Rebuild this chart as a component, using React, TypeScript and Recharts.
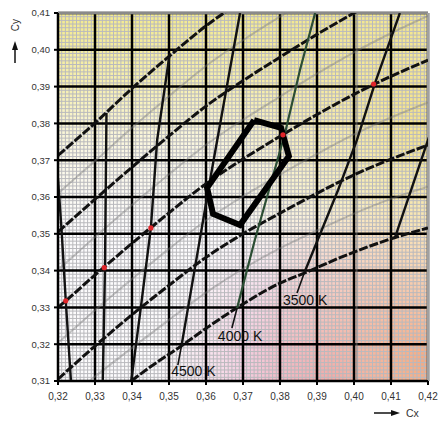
import React from 'react';
import { ComposedChart, XAxis, YAxis, CartesianGrid, Line, Scatter, ReferenceLine } from 'recharts';

type P = { x: number; y: number };

const W = 438;
const H = 421;

const xDomain = [0.32, 0.42];
const yDomain = [0.31, 0.41];
const xTicks = [0.32, 0.33, 0.34, 0.35, 0.36, 0.37, 0.38, 0.39, 0.4, 0.41, 0.42];
const yTicks = [0.31, 0.32, 0.33, 0.34, 0.35, 0.36, 0.37, 0.38, 0.39, 0.4, 0.41];

// minor grid every 0.001
const minorX: number[] = [];
for (let i = 321; i < 420; i++) if (i % 10 !== 0) minorX.push(i / 1000);
const minorY: number[] = [];
for (let i = 311; i < 410; i++) if (i % 10 !== 0) minorY.push(i / 1000);

// Planckian locus and constant-Duv lines
const planck: P[] = [
  { x: 0.32, y: 0.33 }, { x: 0.3221, y: 0.3318 }, { x: 0.33, y: 0.3388 }, { x: 0.34, y: 0.3474 },
  { x: 0.35, y: 0.3557 }, { x: 0.36, y: 0.3636 }, { x: 0.37, y: 0.3703 }, { x: 0.38, y: 0.3765 },
  { x: 0.39, y: 0.3824 }, { x: 0.4, y: 0.3879 }, { x: 0.41, y: 0.3928 }, { x: 0.42, y: 0.3972 },
];
const duvMinus1: P[] = [
  { x: 0.32, y: 0.3105 }, { x: 0.33, y: 0.3195 }, { x: 0.34, y: 0.328 }, { x: 0.35, y: 0.336 },
  { x: 0.36, y: 0.3436 }, { x: 0.37, y: 0.35 }, { x: 0.38, y: 0.3556 }, { x: 0.39, y: 0.361 },
  { x: 0.4, y: 0.366 }, { x: 0.41, y: 0.3703 }, { x: 0.42, y: 0.3741 },
];
const duvMinus2: P[] = [
  { x: 0.3398, y: 0.31 }, { x: 0.3449, y: 0.3138 }, { x: 0.353, y: 0.3193 }, { x: 0.36, y: 0.3243 },
  { x: 0.3684, y: 0.3299 }, { x: 0.38, y: 0.3366 }, { x: 0.387, y: 0.3395 }, { x: 0.3962, y: 0.3435 },
  { x: 0.4111, y: 0.349 }, { x: 0.42, y: 0.3516 },
];
const duvPlus1: P[] = [
  { x: 0.32, y: 0.3505 }, { x: 0.33, y: 0.3594 }, { x: 0.34, y: 0.3681 }, { x: 0.35, y: 0.3766 },
  { x: 0.36, y: 0.3847 }, { x: 0.37, y: 0.3916 }, { x: 0.38, y: 0.398 }, { x: 0.39, y: 0.4042 },
  { x: 0.4, y: 0.41 }, { x: 0.41, y: 0.4155 },
];
const duvPlus2: P[] = [
  { x: 0.32, y: 0.3713 }, { x: 0.33, y: 0.3801 }, { x: 0.34, y: 0.3895 }, { x: 0.35, y: 0.3982 },
  { x: 0.36, y: 0.4065 }, { x: 0.37, y: 0.4135 },
];
// intermediate (grey) Duv lines
const duvMinus15: P[] = [
  { x: 0.3285, y: 0.31 }, { x: 0.33, y: 0.3112 }, { x: 0.34, y: 0.319 }, { x: 0.35, y: 0.3266 },
  { x: 0.36, y: 0.334 }, { x: 0.37, y: 0.3405 }, { x: 0.38, y: 0.3461 }, { x: 0.39, y: 0.3509 },
  { x: 0.4, y: 0.3555 }, { x: 0.41, y: 0.3595 }, { x: 0.42, y: 0.3628 },
];
const duvMinus05: P[] = [
  { x: 0.32, y: 0.3203 }, { x: 0.33, y: 0.3292 }, { x: 0.34, y: 0.3377 }, { x: 0.35, y: 0.3459 },
  { x: 0.36, y: 0.3536 }, { x: 0.37, y: 0.3602 }, { x: 0.38, y: 0.3661 }, { x: 0.39, y: 0.3717 },
  { x: 0.4, y: 0.377 }, { x: 0.41, y: 0.3816 }, { x: 0.42, y: 0.3857 },
];
const duvPlus05: P[] = [
  { x: 0.32, y: 0.3402 }, { x: 0.33, y: 0.3491 }, { x: 0.34, y: 0.3578 }, { x: 0.35, y: 0.3662 },
  { x: 0.36, y: 0.3742 }, { x: 0.37, y: 0.381 }, { x: 0.38, y: 0.3873 }, { x: 0.39, y: 0.3935 },
  { x: 0.4, y: 0.3993 }, { x: 0.41, y: 0.4045 }, { x: 0.42, y: 0.4092 },
];
const duvPlus15: P[] = [
  { x: 0.32, y: 0.361 }, { x: 0.33, y: 0.3698 }, { x: 0.34, y: 0.3788 }, { x: 0.35, y: 0.3874 },
  { x: 0.36, y: 0.3956 }, { x: 0.37, y: 0.4026 }, { x: 0.38, y: 0.409 }, { x: 0.39, y: 0.415 },
];

// isotemperature lines
const iso6000: P[] = [{ x: 0.32, y: 0.365 }, { x: 0.321, y: 0.3505 }, { x: 0.3221, y: 0.3318 }, { x: 0.3235, y: 0.31 }];
const iso5500: P[] = [{ x: 0.3331, y: 0.3828 }, { x: 0.3327, y: 0.3408 }, { x: 0.3321, y: 0.31 }];
const iso5000: P[] = [{ x: 0.3502, y: 0.399 }, { x: 0.3468, y: 0.3755 }, { x: 0.3451, y: 0.3516 }, { x: 0.3422, y: 0.3285 }, { x: 0.3398, y: 0.31 }];
const iso4500: P[] = [{ x: 0.3692, y: 0.41 }, { x: 0.3611, y: 0.3646 }, { x: 0.3535, y: 0.3203 }];
const iso4000: P[] = [{ x: 0.3895, y: 0.41 }, { x: 0.3854, y: 0.3945 }, { x: 0.3813, y: 0.3771 }, { x: 0.3732, y: 0.3483 }, { x: 0.3684, y: 0.3298 }];
const iso3500: P[] = [{ x: 0.4124, y: 0.41 }, { x: 0.4057, y: 0.391 }, { x: 0.4008, y: 0.3755 }, { x: 0.3957, y: 0.3619 }, { x: 0.3866, y: 0.3395 }];
const iso3000: P[] = [{ x: 0.423, y: 0.3844 }, { x: 0.4111, y: 0.349 }];

// leader lines to the labels
const lead4500: P[] = [{ x: 0.3535, y: 0.3203 }, { x: 0.3524, y: 0.3143 }];
const lead4000: P[] = [{ x: 0.3684, y: 0.3298 }, { x: 0.367, y: 0.3244 }];
const lead3500: P[] = [{ x: 0.3866, y: 0.3395 }, { x: 0.3846, y: 0.3339 }];

const planckDots: P[] = [
  { x: 0.3221, y: 0.3318 }, { x: 0.3325, y: 0.3408 }, { x: 0.3451, y: 0.3516 },
  { x: 0.3808, y: 0.3769 }, { x: 0.4053, y: 0.3907 },
];

const tolerance: P[] = [
  { x: 0.373, y: 0.3809 }, { x: 0.3803, y: 0.3788 }, { x: 0.3824, y: 0.3711 },
  { x: 0.3692, y: 0.3524 }, { x: 0.3619, y: 0.3554 }, { x: 0.3603, y: 0.3625 }, { x: 0.373, y: 0.3809 },
];

const labelNames = ['4500 K', '4000 K', '3500 K'];
const labelX = [0.3566, 0.3692, 0.3868];
const labelY = [0.3127, 0.3222, 0.332];
const labels = labelNames.map((name, i) => ({ name, x: labelX[i], y: labelY[i] }));

const fmt = (v: number) => v.toFixed(2).replace('.', ',');

const blackDash = { stroke: '#111', strokeWidth: 3, strokeDasharray: '9 2' };
const greyLine = { stroke: '#7a7a7a', strokeOpacity: 0.42, strokeWidth: 2 };
const isoLine = { stroke: '#111', strokeWidth: 2.4 };

const genX = (props: any) => {
  const off = props && props.offset;
  if (!off) return [];
  return minorX.map((v) => off.left + ((v - xDomain[0]) / (xDomain[1] - xDomain[0])) * off.width);
};
const genY = (props: any) => {
  const off = props && props.offset;
  if (!off) return [];
  return minorY.map((v) => off.top + ((yDomain[1] - v) / (yDomain[1] - yDomain[0])) * off.height);
};

const L = (data: P[], style: any, type: any = 'monotone', key?: string) => (
  <Line
    key={key}
    data={data}
    dataKey="y"
    type={type}
    dot={false}
    activeDot={false}
    isAnimationActive={false}
    legendType="none"
    strokeLinejoin="miter"
    {...style}
  />
);

export default function App() {
  return (
    <div style={{ position: 'absolute', left: 0, top: 0, width: W, height: H, background: '#fff' }}>
      <ComposedChart
        width={W}
        height={H}
        margin={{ top: 13, right: 10, bottom: 10, left: 0 }}
        style={{ fontFamily: '"Liberation Sans", Arial, sans-serif' }}
      >
        <defs>
          <linearGradient id="gTop" x1="0" y1="0" x2="0" y2="1">
            <stop offset="0" stopColor="#f3ea8e" stopOpacity={1} />
            <stop offset="0.2" stopColor="#f5eda2" stopOpacity={0.85} />
            <stop offset="0.38" stopColor="#f7f1ba" stopOpacity={0.35} />
            <stop offset="0.58" stopColor="#f7f1ba" stopOpacity={0} />
          </linearGradient>
          <radialGradient id="gRightY" cx="1" cy="0.3" r="0.6">
            <stop offset="0" stopColor="#f3e07e" stopOpacity={0.9} />
            <stop offset="0.5" stopColor="#f4e490" stopOpacity={0.5} />
            <stop offset="1" stopColor="#f4e490" stopOpacity={0} />
          </radialGradient>
          <radialGradient id="gOrange" cx="1" cy="0.95" r="0.5">
            <stop offset="0" stopColor="#f5a67a" stopOpacity={0.95} />
            <stop offset="0.6" stopColor="#f8c48e" stopOpacity={0.4} />
            <stop offset="1" stopColor="#f8c48e" stopOpacity={0} />
          </radialGradient>
          <radialGradient id="gPink" cx="0.74" cy="1.0" r="0.48">
            <stop offset="0" stopColor="#ec96c0" stopOpacity={1} />
            <stop offset="0.55" stopColor="#f1b8d4" stopOpacity={0.6} />
            <stop offset="1" stopColor="#f3c8dc" stopOpacity={0} />
          </radialGradient>
        </defs>

        <CartesianGrid horizontal={false} vertical={false} fill="#fcfbfc" />
        <CartesianGrid horizontal={false} vertical={false} fill="url(#gTop)" />
        <CartesianGrid horizontal={false} vertical={false} fill="url(#gRightY)" />
        <CartesianGrid horizontal={false} vertical={false} fill="url(#gPink)" />
        <CartesianGrid horizontal={false} vertical={false} fill="url(#gOrange)" />
        <CartesianGrid
          stroke="#b9b9bd"
          strokeWidth={1}
          verticalCoordinatesGenerator={genX}
          horizontalCoordinatesGenerator={genY}
        />
        <CartesianGrid stroke="#000" strokeWidth={2.5} />

        <XAxis
          type="number"
          dataKey="x"
          domain={xDomain}
          ticks={xTicks}
          interval={0}
          allowDataOverflow
          tickFormatter={fmt}
          tickSize={4}
          tickMargin={8}
          height={30}
          stroke="#000"
          strokeWidth={2}
          tick={{ fill: '#333', fontSize: 10 }}
        />
        <YAxis
          type="number"
          dataKey="y"
          domain={yDomain}
          ticks={yTicks}
          interval={0}
          allowDataOverflow
          tickFormatter={fmt}
          tickSize={4}
          tickMargin={4}
          width={58}
          stroke="#000"
          strokeWidth={2}
          tick={{ fill: '#333', fontSize: 9.5 }}
        />

        <ReferenceLine x={0.4007} stroke="#7a7a7a" strokeOpacity={0.5} strokeWidth={2} />
        <ReferenceLine y={0.41} stroke="#8a8a8a" strokeWidth={2.5} />
        <ReferenceLine x={0.42} stroke="#a0a0a0" strokeWidth={2.5} />

        {L(duvMinus15, greyLine, 'monotone', 'g1')}
        {L(duvMinus05, greyLine, 'monotone', 'g2')}
        {L(duvPlus05, greyLine, 'monotone', 'g3')}
        {L(duvPlus15, greyLine, 'monotone', 'g4')}

        {L(duvMinus2, blackDash, 'monotone', 'b1')}
        {L(duvMinus1, blackDash, 'monotone', 'b2')}
        {L(planck, blackDash, 'monotone', 'b3')}
        {L(duvPlus1, blackDash, 'monotone', 'b4')}
        {L(duvPlus2, blackDash, 'monotone', 'b5')}

        {L(iso6000, isoLine, 'linear', 'i1')}
        {L(iso5500, isoLine, 'linear', 'i2')}
        {L(iso5000, isoLine, 'linear', 'i3')}
        {L(iso4500, isoLine, 'linear', 'i4')}
        {L(iso4000, { stroke: '#2b4d33', strokeWidth: 2.2 }, 'linear', 'i5')}
        {L(iso3500, isoLine, 'linear', 'i6')}
        {L(iso3000, isoLine, 'linear', 'i7')}

        {L(lead4500, { stroke: '#111', strokeWidth: 1.6 }, 'linear', 'l1')}
        {L(lead4000, { stroke: '#111', strokeWidth: 1.6 }, 'linear', 'l2')}
        {L(lead3500, { stroke: '#111', strokeWidth: 1.6 }, 'linear', 'l3')}

        {L(tolerance, { stroke: '#000', strokeWidth: 6 }, 'linear', 'poly')}

        <Scatter
          data={planckDots}
          isAnimationActive={false}
          shape={(p: any) => <circle cx={p.cx} cy={p.cy} r={2.6} fill="#e0262a" />}
        />
        <Scatter
          data={labels}
          isAnimationActive={false}
          shape={(p: any) => (
            <text
              x={p.cx}
              y={p.cy}
              textAnchor="middle"
              dominantBaseline="central"
              fontSize={14}
              fill="#111"
              fontFamily='"Liberation Sans", Arial, sans-serif'
            >
              {p.payload.name}
            </text>
          )}
        />
      </ComposedChart>
      <svg
        width={W}
        height={H}
        style={{ position: 'absolute', left: 0, top: 0, pointerEvents: 'none' }}
        fontFamily='"Liberation Sans", Arial, sans-serif'
      >
        <text x={15} y={25} transform="rotate(-90 15 25)" textAnchor="middle" dominantBaseline="central" fontSize={10} fill="#333">
          Cy
        </text>
        <line x1={15} y1={63} x2={15} y2={48} stroke="#111" strokeWidth={1.5} />
        <polygon points="15,41 12,50 18,50" fill="#111" />
        <line x1={374} y1={413} x2={392} y2={413} stroke="#111" strokeWidth={1.5} />
        <polygon points="400,413 391,410 391,416" fill="#111" />
        <text x={406} y={413} dominantBaseline="central" fontSize={10.5} fill="#333">
          Cx
        </text>
      </svg>
    </div>
  );
}
